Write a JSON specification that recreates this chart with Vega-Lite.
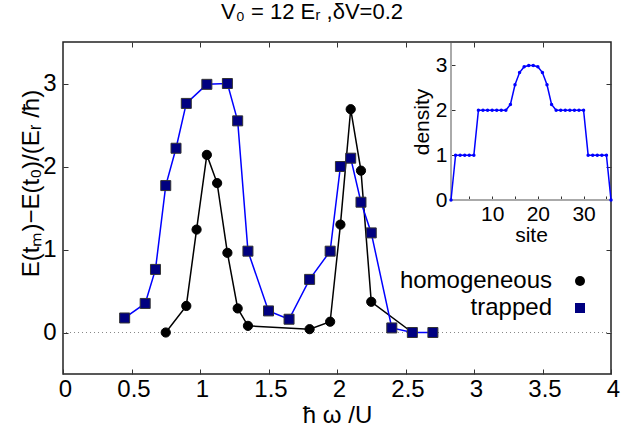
{
  "$schema": "https://vega.github.io/schema/vega-lite/v6.json",
  "width": 548,
  "height": 332,
  "autosize": {"type": "none"},
  "padding": {"left": 63, "top": 42, "right": 12, "bottom": 52},
  "background": "white",
  "config": {
    "font": "Liberation Sans",
    "view": {"stroke": "#222", "strokeWidth": 1.5}
  },
  "title": {"text": "V₀ = 12 Eᵣ ,δV=0.2", "fontSize": 22, "fontWeight": "normal", "font": "Liberation Sans", "dx": -25, "offset": 18, "color": "black"},
  "datasets": {
    "energy": [
      {"series": "homogeneous", "w": 0.75, "E": 0.0},
      {"series": "homogeneous", "w": 0.9, "E": 0.32},
      {"series": "homogeneous", "w": 0.975, "E": 1.24},
      {"series": "homogeneous", "w": 1.05, "E": 2.14},
      {"series": "homogeneous", "w": 1.125, "E": 1.8},
      {"series": "homogeneous", "w": 1.2, "E": 0.96},
      {"series": "homogeneous", "w": 1.275, "E": 0.29},
      {"series": "homogeneous", "w": 1.35, "E": 0.08},
      {"series": "homogeneous", "w": 1.8, "E": 0.04},
      {"series": "homogeneous", "w": 1.95, "E": 0.13},
      {"series": "homogeneous", "w": 2.025, "E": 1.3},
      {"series": "homogeneous", "w": 2.1, "E": 2.69},
      {"series": "homogeneous", "w": 2.175, "E": 1.95},
      {"series": "homogeneous", "w": 2.25, "E": 0.37},
      {"series": "homogeneous", "w": 2.55, "E": 0.0},
      {"series": "trapped", "w": 0.45, "E": 0.175},
      {"series": "trapped", "w": 0.6, "E": 0.35},
      {"series": "trapped", "w": 0.675, "E": 0.76},
      {"series": "trapped", "w": 0.75, "E": 1.77},
      {"series": "trapped", "w": 0.825, "E": 2.22},
      {"series": "trapped", "w": 0.9, "E": 2.76},
      {"series": "trapped", "w": 1.05, "E": 2.99},
      {"series": "trapped", "w": 1.2, "E": 3.0},
      {"series": "trapped", "w": 1.275, "E": 2.55},
      {"series": "trapped", "w": 1.35, "E": 0.98},
      {"series": "trapped", "w": 1.5, "E": 0.26},
      {"series": "trapped", "w": 1.65, "E": 0.16},
      {"series": "trapped", "w": 1.8, "E": 0.64},
      {"series": "trapped", "w": 1.95, "E": 0.98},
      {"series": "trapped", "w": 2.025, "E": 2.0},
      {"series": "trapped", "w": 2.1, "E": 2.1},
      {"series": "trapped", "w": 2.175, "E": 1.57},
      {"series": "trapped", "w": 2.25, "E": 1.2},
      {"series": "trapped", "w": 2.4, "E": 0.055},
      {"series": "trapped", "w": 2.55, "E": 0.0},
      {"series": "trapped", "w": 2.7, "E": 0.0}
    ],
    "density": [
      {"site": 1, "n": 0}, {"site": 2, "n": 1}, {"site": 3, "n": 1}, {"site": 4, "n": 1}, {"site": 5, "n": 1}, {"site": 6, "n": 1},
      {"site": 7, "n": 2}, {"site": 8, "n": 2}, {"site": 9, "n": 2}, {"site": 10, "n": 2}, {"site": 11, "n": 2}, {"site": 12, "n": 2}, {"site": 13, "n": 2},
      {"site": 14, "n": 2.13}, {"site": 15, "n": 2.57}, {"site": 16, "n": 2.84}, {"site": 17, "n": 2.97}, {"site": 18, "n": 3.0},
      {"site": 19, "n": 3.0}, {"site": 20, "n": 2.97}, {"site": 21, "n": 2.84}, {"site": 22, "n": 2.57}, {"site": 23, "n": 2.13},
      {"site": 24, "n": 2}, {"site": 25, "n": 2}, {"site": 26, "n": 2}, {"site": 27, "n": 2}, {"site": 28, "n": 2}, {"site": 29, "n": 2}, {"site": 30, "n": 2},
      {"site": 31, "n": 1}, {"site": 32, "n": 1}, {"site": 33, "n": 1}, {"site": 34, "n": 1}, {"site": 35, "n": 1}, {"site": 36, "n": 0}
    ]
  },
  "layer": [
    {
      "data": {"name": "energy"},
      "resolve": {"axis": {"x": "independent", "y": "independent"}},
      "layer": [
        {
          "mark": {"type": "rule", "color": "#888", "strokeDash": [1, 3], "strokeWidth": 1},
          "encoding": {"y": {"datum": 0, "type": "quantitative", "scale": {"domain": [-0.5, 3.5], "nice": false, "zero": false}, "axis": null}}
        },
        {
          "transform": [{"filter": "datum.series === 'homogeneous'"}],
          "mark": {"type": "line", "color": "black", "strokeWidth": 1.5},
          "encoding": {
            "x": {"field": "w", "type": "quantitative", "scale": {"domain": [0, 4], "nice": false, "zero": false},
                  "axis": {"orient": "top", "labels": false, "title": null, "grid": false, "domain": false, "tickColor": "#333", "tickWidth": 1, "tickSize": 5, "offset": -5, "values": [0.5, 1, 1.5, 2, 2.5, 3, 3.5]}},
            "y": {"field": "E", "type": "quantitative", "scale": {"domain": [-0.5, 3.5], "nice": false, "zero": false},
                  "axis": {"orient": "right", "labels": false, "title": null, "grid": false, "domain": false, "tickColor": "#333", "tickWidth": 1, "tickSize": 5, "offset": -5, "values": [0, 1, 2, 3]}}
          }
        },
        {
          "transform": [{"filter": "datum.series === 'homogeneous'"}],
          "mark": {"type": "point", "filled": true, "size": 85, "stroke": "black", "strokeWidth": 1, "opacity": 1},
          "encoding": {
            "x": {"field": "w", "type": "quantitative", "scale": {"domain": [0, 4], "nice": false, "zero": false}, "axis": null},
            "y": {"field": "E", "type": "quantitative", "scale": {"domain": [-0.5, 3.5], "nice": false, "zero": false}, "axis": null},
            "shape": {"field": "series", "type": "nominal", "scale": {"domain": ["homogeneous", "trapped"], "range": ["circle", "square"]},
              "legend": {
                "title": null, "orient": "none", "legendX": 505, "legendY": 227, "padding": 0,
                "labelFontSize": 24, "labelFont": "Liberation Sans", "labelColor": "black", "labelAlign": "right", "labelOffset": -40, "labelLimit": 400,
                "symbolSize": 100, "symbolStrokeWidth": 1, "symbolStrokeColor": "#333", "rowPadding": 3
              }},
            "fill": {"field": "series", "type": "nominal", "scale": {"domain": ["homogeneous", "trapped"], "range": ["black", "#000080"]},
              "legend": {
                "title": null, "orient": "none", "legendX": 505, "legendY": 227, "padding": 0,
                "labelFontSize": 24, "labelFont": "Liberation Sans", "labelColor": "black", "labelAlign": "right", "labelOffset": -40, "labelLimit": 400,
                "symbolSize": 100, "symbolStrokeWidth": 1, "symbolStrokeColor": "#333", "rowPadding": 3
              }}
          }
        },
        {
          "transform": [{"filter": "datum.series === 'trapped'"}],
          "mark": {"type": "line", "color": "#0000ff", "strokeWidth": 1.5},
          "encoding": {
            "x": {"field": "w", "type": "quantitative", "scale": {"domain": [0, 4], "nice": false, "zero": false},
                  "axis": {"orient": "bottom", "values": [0, 0.5, 1, 1.5, 2, 2.5, 3, 3.5, 4], "format": "~g", "grid": false, "domain": false, "tickColor": "#333", "tickWidth": 1, "tickSize": 5, "offset": -5, "labelPadding": 3, "labelOffset": 2, "labelFlush": false,
                           "labelFont": "Liberation Sans", "labelFontSize": 24, "labelColor": "black",
                           "title": "ħ ω /U", "titleFont": "Liberation Sans", "titleFontSize": 24, "titleFontWeight": "normal", "titleColor": "black", "titleY": 46, "titleBaseline": "middle"}},
            "y": {"field": "E", "type": "quantitative", "scale": {"domain": [-0.5, 3.5], "nice": false, "zero": false},
                  "axis": {"orient": "left", "values": [0, 1, 2, 3], "grid": false, "domain": false, "tickColor": "#333", "tickWidth": 1, "tickSize": 5, "offset": -5, "labelPadding": 7,
                           "labelFont": "Liberation Sans", "labelFontSize": 24, "labelColor": "black",
                           "title": "E(tₘ)−E(t₀)/(Eᵣ /ħ)", "titleFont": "Liberation Sans", "titleFontSize": 24, "titleFontWeight": "normal", "titleColor": "black",
                           "titleX": -37, "titleY": 141, "titleAngle": 270, "titleAlign": "center", "titleBaseline": "middle"}}
          }
        },
        {
          "transform": [{"filter": "datum.series === 'trapped'"}],
          "mark": {"type": "point", "filled": true, "size": 100, "stroke": "#333", "strokeWidth": 1, "opacity": 1},
          "encoding": {
            "x": {"field": "w", "type": "quantitative", "scale": {"domain": [0, 4], "nice": false, "zero": false}, "axis": null},
            "y": {"field": "E", "type": "quantitative", "scale": {"domain": [-0.5, 3.5], "nice": false, "zero": false}, "axis": null},
            "shape": {"field": "series", "type": "nominal", "scale": {"domain": ["homogeneous", "trapped"], "range": ["circle", "square"]},
              "legend": {
                "title": null, "orient": "none", "legendX": 505, "legendY": 227, "padding": 0,
                "labelFontSize": 24, "labelFont": "Liberation Sans", "labelColor": "black", "labelAlign": "right", "labelOffset": -40, "labelLimit": 400,
                "symbolSize": 100, "symbolStrokeWidth": 1, "symbolStrokeColor": "#333", "rowPadding": 3
              }},
            "fill": {"field": "series", "type": "nominal", "scale": {"domain": ["homogeneous", "trapped"], "range": ["black", "#000080"]},
              "legend": {
                "title": null, "orient": "none", "legendX": 505, "legendY": 227, "padding": 0,
                "labelFontSize": 24, "labelFont": "Liberation Sans", "labelColor": "black", "labelAlign": "right", "labelOffset": -40, "labelLimit": 400,
                "symbolSize": 100, "symbolStrokeWidth": 1, "symbolStrokeColor": "#333", "rowPadding": 3
              }}
          }
        }
      ]
    },
    {
      "data": {"name": "density"},
      "resolve": {"axis": {"x": "independent", "y": "independent"}},
      "layer": [
        {
          "mark": {"type": "rule", "color": "#aaa", "strokeWidth": 1.2},
          "encoding": {
            "x": {"datum": 1, "type": "quantitative", "scale": {"domain": [1, 36], "range": [388, 548], "nice": false, "zero": false}, "axis": null},
            "y": {"datum": 0, "type": "quantitative", "scale": {"domain": [0, 3.5], "range": [158, 1], "nice": false, "zero": false}, "axis": null},
            "y2": {"datum": 3.5}
          }
        },
        {
          "mark": {"type": "rule", "color": "#aaa", "strokeWidth": 1.2},
          "encoding": {
            "x": {"datum": 1, "type": "quantitative", "scale": {"domain": [1, 36], "range": [388, 548], "nice": false, "zero": false}, "axis": null},
            "x2": {"datum": 36},
            "y": {"datum": 0, "type": "quantitative", "scale": {"domain": [0, 3.5], "range": [158, 1], "nice": false, "zero": false}, "axis": null}
          }
        },
        {
          "mark": {"type": "line", "color": "#0000ff", "strokeWidth": 1.5},
          "encoding": {
            "x": {"field": "site", "type": "quantitative", "scale": {"domain": [1, 36], "range": [388, 548], "nice": false, "zero": false},
                  "axis": {"orient": "bottom", "offset": -178, "values": [5, 10, 15, 20, 25, 30, 35], "labelExpr": "datum.value % 10 === 0 ? datum.label : ''",
                           "grid": false, "domain": false, "tickColor": "#333", "tickWidth": 1, "tickSize": 4, "labelPadding": 3, "labelFlush": false,
                           "labelFont": "Liberation Sans", "labelFontSize": 21, "labelColor": "black",
                           "title": "site", "titleFont": "Liberation Sans", "titleFontSize": 21, "titleFontWeight": "normal", "titleColor": "black", "titlePadding": 0}},
            "y": {"field": "n", "type": "quantitative", "scale": {"domain": [0, 3.5], "range": [158, 1], "nice": false, "zero": false},
                  "axis": {"orient": "left", "offset": -392, "values": [0, 1, 2, 3], "grid": false, "domain": false, "tickColor": "#333", "tickWidth": 1, "tickSize": 4, "labelPadding": 4, "labelFlush": false,
                           "labelFont": "Liberation Sans", "labelFontSize": 21, "labelColor": "black",
                           "title": "density", "titleFont": "Liberation Sans", "titleFontSize": 21, "titleFontWeight": "normal", "titleColor": "black", "titlePadding": 3}}
          }
        },
        {
          "mark": {"type": "point", "filled": true, "size": 12, "color": "#0000ff", "opacity": 1},
          "encoding": {
            "x": {"field": "site", "type": "quantitative", "scale": {"domain": [1, 36], "range": [388, 548], "nice": false, "zero": false}, "axis": null},
            "y": {"field": "n", "type": "quantitative", "scale": {"domain": [0, 3.5], "range": [158, 1], "nice": false, "zero": false}, "axis": null}
          }
        }
      ]
    }
  ],
  "resolve": {"scale": {"x": "independent", "y": "independent"}}
}
